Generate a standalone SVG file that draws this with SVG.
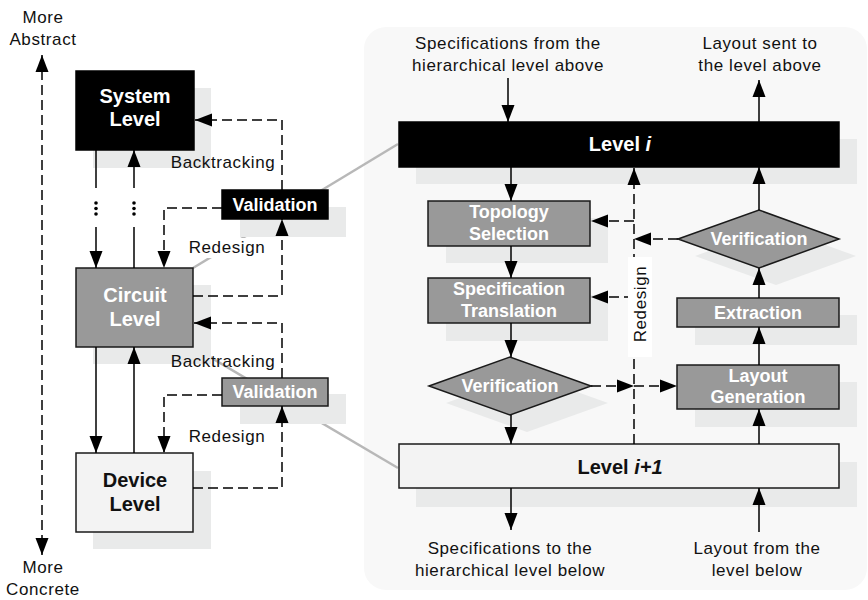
<svg xmlns="http://www.w3.org/2000/svg" width="868" height="600" viewBox="0 0 868 600">
  <defs>
    <marker id="ah" markerUnits="userSpaceOnUse" markerWidth="18" markerHeight="14" refX="17" refY="7" orient="auto-start-reverse" viewBox="0 0 18 14">
      <path d="M0,0.5 L17,7 L0,13.5 z" fill="#000"/>
    </marker>
    <style>
      .t { font-family: "Liberation Sans", Arial, sans-serif; font-size: 17px; letter-spacing: 0.6px; text-anchor: middle; fill: #111; }
      .bw { font-family: "Liberation Sans", Arial, sans-serif; font-size: 18px; font-weight: bold; text-anchor: middle; fill: #fff; }
      .bL { font-family: "Liberation Sans", Arial, sans-serif; font-size: 20px; font-weight: bold; text-anchor: middle; }
      .sh { fill: #e9eaea; }
      .blk { fill: #000; stroke: #000; stroke-width: 1.5; }
      .gry { fill: #999; stroke: #1a1a1a; stroke-width: 1.5; }
      .lit { fill: #f3f3f3; stroke: #1a1a1a; stroke-width: 1.5; }
      .ln { fill: none; stroke: #000; stroke-width: 1.5; }
      .dl { fill: none; stroke: #000; stroke-width: 1.5; stroke-dasharray: 10 5; }
      .zoom { fill: none; stroke: #b8b8b8; stroke-width: 2.5; }
    </style>
  </defs>

  <!-- detail panel background -->
  <rect id="panel" x="364" y="27" width="503" height="563" rx="22" fill="#f8f8f8"/>

  <!-- zoom lines from the circuit level to the detail panel -->
  <g id="zoom-lines">
    <line class="zoom" x1="193" y1="268" x2="398" y2="144"/>
    <line class="zoom" x1="193" y1="347" x2="398" y2="468"/>
  </g>

  <!-- hierarchy levels -->
  <g id="system">
    <rect class="sh" x="93" y="88" width="118" height="80"/>
    <rect class="blk" x="76" y="71" width="118" height="79"/>
    <text class="bL" fill="#fff" x="135" y="103">System</text>
    <text class="bL" fill="#fff" x="135" y="126">Level</text>
  </g>
  <g id="circuit">
    <rect class="sh" x="93" y="285" width="118" height="79"/>
    <rect class="gry" x="76" y="268" width="117" height="79"/>
    <text class="bL" fill="#fff" x="135" y="302">Circuit</text>
    <text class="bL" fill="#fff" x="135" y="326">Level</text>
  </g>
  <g id="device">
    <rect class="sh" x="93" y="471" width="118" height="78"/>
    <rect class="lit" x="76" y="453" width="117" height="79"/>
    <text class="bL" fill="#111" x="135" y="487">Device</text>
    <text class="bL" fill="#111" x="135" y="511">Level</text>
  </g>
  <g id="validation-system">
    <rect class="sh" x="240" y="207" width="106" height="30"/>
    <rect class="blk" x="222" y="190" width="106" height="29"/>
    <text class="bw" x="275" y="211">Validation</text>
  </g>
  <g id="validation-circuit">
    <rect class="sh" x="240" y="394" width="106" height="30"/>
    <rect class="gry" x="222" y="378" width="106" height="28"/>
    <text class="bw" x="275" y="398">Validation</text>
  </g>

  <!-- detail of one level -->
  <g id="level-i">
    <rect class="sh" x="416" y="139" width="441" height="45"/>
    <rect class="blk" x="399" y="122" width="440" height="45"/>
    <text class="bL" fill="#fff" x="620" y="151">Level <tspan font-style="italic">i</tspan></text>
  </g>
  <g id="topology-selection">
    <rect class="sh" x="446" y="218" width="162" height="45"/>
    <rect class="gry" x="428" y="201" width="162" height="45"/>
    <text class="bw" x="509" y="218">Topology</text>
    <text class="bw" x="509" y="240">Selection</text>
  </g>
  <g id="specification-translation">
    <rect class="sh" x="446" y="295" width="162" height="46"/>
    <rect class="gry" x="428" y="278" width="162" height="45"/>
    <text class="bw" x="509" y="295">Specification</text>
    <text class="bw" x="509" y="317">Translation</text>
  </g>
  <g id="verification-left">
    <polygon class="sh" points="446,403 527,374 608,403 527,432"/>
    <polygon class="gry" points="429,386 510,357 591,386 510,415"/>
    <text class="bw" x="510" y="392">Verification</text>
  </g>
  <g id="verification-right">
    <polygon class="sh" points="695,256 776,227 856,256 776,285"/>
    <polygon class="gry" points="678,239 759,210 839,239 759,268"/>
    <text class="bw" x="759" y="245">Verification</text>
  </g>
  <g id="extraction">
    <rect class="sh" x="695" y="315" width="162" height="30"/>
    <rect class="gry" x="677" y="298" width="162" height="29"/>
    <text class="bw" x="758" y="319">Extraction</text>
  </g>
  <g id="layout-generation">
    <rect class="sh" x="695" y="382" width="162" height="45"/>
    <rect class="gry" x="677" y="365" width="162" height="44"/>
    <text class="bw" x="758" y="382">Layout</text>
    <text class="bw" x="758" y="403">Generation</text>
  </g>
  <g id="level-i1">
    <rect class="sh" x="416" y="462" width="441" height="45"/>
    <rect class="lit" x="399" y="444" width="440" height="44"/>
    <text class="bL" fill="#111" x="620" y="474">Level <tspan font-style="italic">i+1</tspan></text>
  </g>

  <!-- connectors -->
  <g id="connectors">
    <!-- abstraction axis -->
    <line class="dl" x1="42" y1="55" x2="42" y2="555" marker-start="url(#ah)" marker-end="url(#ah)"/>

    <!-- system <-> circuit, with elided levels -->
    <line class="ln" x1="96" y1="150" x2="96" y2="188"/>
    <line class="ln" x1="96" y1="227" x2="96" y2="268" marker-end="url(#ah)"/>
    <line class="ln" x1="134" y1="268" x2="134" y2="227"/>
    <line class="ln" x1="134" y1="188" x2="134" y2="150" marker-end="url(#ah)"/>
    <g fill="#000">
      <circle cx="96" cy="203" r="1.8"/><circle cx="96" cy="208.5" r="1.8"/><circle cx="96" cy="214" r="1.8"/>
      <circle cx="134" cy="203" r="1.8"/><circle cx="134" cy="208.5" r="1.8"/><circle cx="134" cy="214" r="1.8"/>
    </g>

    <!-- circuit <-> device -->
    <line class="ln" x1="96" y1="347" x2="96" y2="453" marker-end="url(#ah)"/>
    <line class="ln" x1="134" y1="453" x2="134" y2="347" marker-end="url(#ah)"/>

    <!-- validation loops -->
    <path class="dl" d="M282,190 V120 H195" marker-end="url(#ah)"/>
    <path class="dl" d="M222,208 H164 V268" marker-end="url(#ah)"/>
    <path class="dl" d="M193,296 H282 V219" marker-end="url(#ah)"/>
    <path class="dl" d="M282,378 V323 H194" marker-end="url(#ah)"/>
    <path class="dl" d="M222,395 H164 V453" marker-end="url(#ah)"/>
    <path class="dl" d="M193,488 H282 V406" marker-end="url(#ah)"/>

    <!-- panel flow -->
    <line class="ln" x1="508" y1="78" x2="508" y2="122" marker-end="url(#ah)"/>
    <line class="ln" x1="759" y1="122" x2="759" y2="80" marker-end="url(#ah)"/>
    <line class="ln" x1="511" y1="167" x2="511" y2="201" marker-end="url(#ah)"/>
    <line class="ln" x1="511" y1="246" x2="511" y2="278" marker-end="url(#ah)"/>
    <line class="ln" x1="511" y1="323" x2="511" y2="357" marker-end="url(#ah)"/>
    <line class="ln" x1="511" y1="415" x2="511" y2="444" marker-end="url(#ah)"/>
    <line class="ln" x1="511" y1="488" x2="511" y2="530" marker-end="url(#ah)"/>
    <line class="ln" x1="759" y1="532" x2="759" y2="488" marker-end="url(#ah)"/>
    <line class="ln" x1="759" y1="444" x2="759" y2="409" marker-end="url(#ah)"/>
    <line class="ln" x1="759" y1="365" x2="759" y2="327" marker-end="url(#ah)"/>
    <line class="ln" x1="759" y1="298" x2="759" y2="268" marker-end="url(#ah)"/>
    <line class="ln" x1="759" y1="210" x2="759" y2="167" marker-end="url(#ah)"/>

    <!-- redesign bus -->
    <line class="dl" x1="634" y1="444" x2="634" y2="168" marker-end="url(#ah)"/>
    <line class="dl" x1="634" y1="221" x2="591" y2="221" marker-end="url(#ah)"/>
    <line class="dl" x1="634" y1="297" x2="591" y2="297" marker-end="url(#ah)"/>
    <line class="dl" x1="678" y1="239" x2="634" y2="239" marker-end="url(#ah)"/>
    <line class="dl" x1="591" y1="386" x2="634" y2="386" marker-end="url(#ah)"/>
    <line class="dl" x1="634" y1="386" x2="677" y2="386" marker-end="url(#ah)"/>
  </g>

  <!-- labels -->
  <g id="labels">
    <text class="t" x="43" y="23">More</text>
    <text class="t" x="43" y="45">Abstract</text>
    <text class="t" x="43" y="573">More</text>
    <text class="t" x="43" y="595">Concrete</text>

    <text class="t" x="223" y="168">Backtracking</text>
    <rect x="186" y="238" width="82" height="20" fill="#fff"/>
    <text class="t" x="227" y="253">Redesign</text>
    <text class="t" x="223" y="367">Backtracking</text>
    <text class="t" x="227" y="442">Redesign</text>

    <text class="t" x="508" y="49">Specifications from the</text>
    <text class="t" x="508" y="71">hierarchical level above</text>
    <text class="t" x="760" y="49">Layout sent to</text>
    <text class="t" x="760" y="71">the level above</text>
    <text class="t" x="510" y="554">Specifications to the</text>
    <text class="t" x="510" y="576">hierarchical level below</text>
    <text class="t" x="757" y="554">Layout from the</text>
    <text class="t" x="757" y="576">level below</text>

    <rect x="628" y="257" width="24" height="100" fill="#fff"/>
    <text class="t" transform="translate(646 304) rotate(-90)">Redesign</text>
  </g>
</svg>
